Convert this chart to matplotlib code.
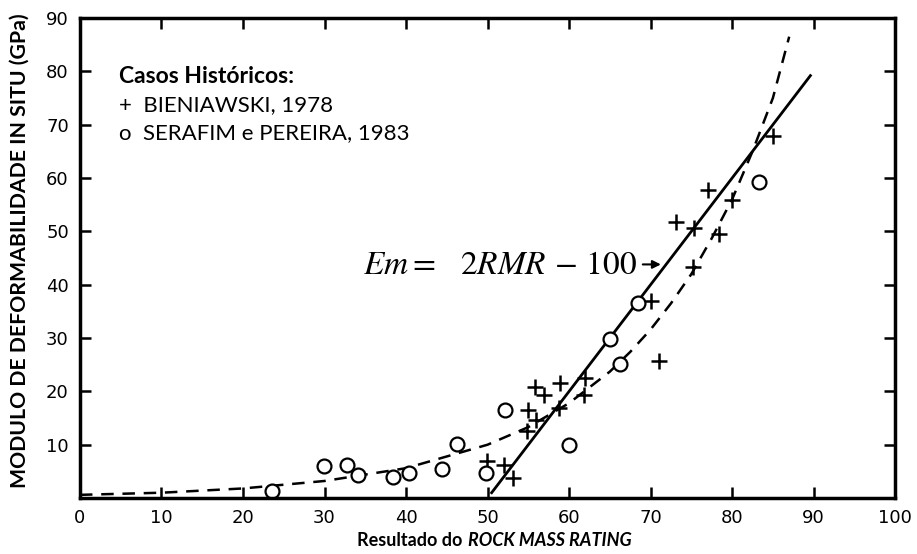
import matplotlib
matplotlib.use("Agg")
import matplotlib.pyplot as plt

# Data
bieniawski_x = [49.9, 52.0, 53.1, 54.8, 55.0, 56.0, 55.8, 56.9, 58.8, 58.9, 61.8, 62.0,
                70.1, 71.0, 73.1, 75.3, 75.2, 77.0, 78.4, 80.0, 85.0]
bieniawski_y = [6.9, 6.2, 3.8, 12.6, 16.6, 14.6, 20.9, 19.3, 16.8, 21.5, 19.3, 22.6,
                37.0, 25.7, 51.8, 50.6, 43.4, 57.7, 49.5, 55.8, 67.9]

serafim_x = [23.5, 29.9, 32.7, 34.1, 38.4, 40.4, 44.4, 46.3, 49.8, 52.1, 60.0, 65.0, 66.2, 68.5, 83.3]
serafim_y = [1.4, 6.1, 6.2, 4.3, 4.0, 4.7, 5.4, 10.1, 4.7, 16.5, 9.9, 29.8, 25.1, 36.5, 59.3]

# solid line Em = 2RMR - 100 (end points)
line_x = [50.5, 89.6]
line_y = [1.0, 79.2]

# dashed curve
curve_x = [0, 10, 20, 30, 40, 50, 55, 60, 65, 67.5, 70, 72.5, 75, 77.5, 80, 82.5, 85, 87]
curve_y = [0.6, 1.0, 1.8, 3.2, 5.6, 10.0, 13.3, 17.8, 23.7, 27.4, 31.6, 36.5, 42.0, 48.7,
           56.0, 65.0, 75.0, 86.5]

xticks = [0, 10, 20, 30, 40, 50, 60, 70, 80, 90, 100]
yticks = [10, 20, 30, 40, 50, 60, 70, 80, 90]

plt.rcParams['mathtext.fontset'] = 'stix'

fig = plt.figure(figsize=(9.17, 5.54), dpi=100)
ax = fig.add_axes([0.0872, 0.101, 0.889, 0.8665])
ax.set_xlim(0, 100)
ax.set_ylim(0, 90)

ax.plot(curve_x, curve_y, color='black', lw=1.8, ls=(0, (5, 3.5)))
ax.plot(line_x, line_y, color='black', lw=2.0)
ax.plot(bieniawski_x, bieniawski_y, ls='none', marker='+', ms=11, mew=1.8, color='black')
ax.plot(serafim_x, serafim_y, ls='none', marker='o', ms=10, mew=1.6,
        mfc='white', mec='black')

for s in ax.spines.values():
    s.set_linewidth(2.5)

ax.set_xticks(xticks)
ax.set_yticks(yticks)
ax.tick_params(direction='in', length=8, width=1.8, top=True, right=True,
               labelsize=13, pad=8)
ax.set_xticklabels([str(v) for v in xticks])
ax.set_yticklabels([str(v) for v in yticks])

fig.text(20 / 917, 1 - 251 / 554, 'MODULO DE DEFORMABILIDADE IN SITU (GPa)', fontsize=15.3,
         fontweight='bold', family='Lato', rotation=90, ha='center', va='center')
fig.text(467 / 917, 1 - 540 / 554, 'Resultado do ', fontsize=13, fontweight='bold',
         family='Lato', ha='right', va='center')
fig.text(468 / 917, 1 - 540 / 554, 'ROCK MASS RATING', fontsize=13, fontweight='bold',
         fontstyle='italic', family='Lato', ha='left', va='center')

# legend-like text
ax.text(4.8, 79.0, 'Casos Históricos:', fontsize=16.5, fontweight='bold',
        family='Lato', va='center')
ax.text(4.8, 73.7, '+  BIENIAWSKI, 1978', fontsize=16, family='Lato', va='center')
ax.text(4.8, 68.5, 'o  SERAFIM e PEREIRA, 1983', fontsize=16, family='Lato', va='center')

ax.text(68.3, 43.7, r'$Em =\;\;\;2RMR\,-\,100$', fontsize=24, ha='right', va='center')
ax.annotate('', xy=(71.6, 43.8), xytext=(68.7, 43.8),
            arrowprops=dict(arrowstyle='-|>', color='black', lw=1.5, mutation_scale=12))

fig.savefig('out.png', dpi=100)
